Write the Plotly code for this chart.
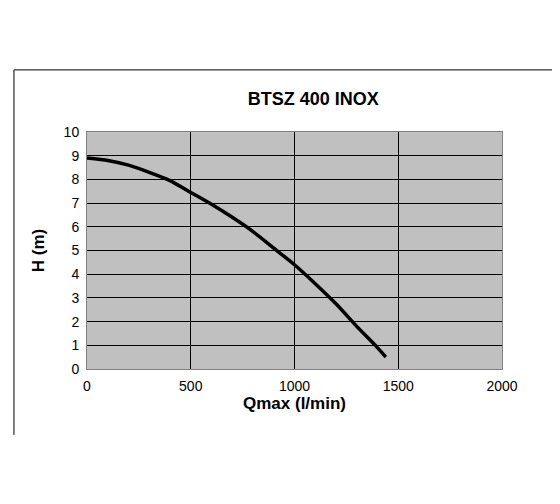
import plotly.graph_objects as go

# pump curve
flow = [0, 100, 200, 300, 400, 500, 600, 700, 800, 900, 1000, 1100, 1200, 1300, 1400, 1440]
head = [8.9, 8.8, 8.6, 8.3, 7.95, 7.45, 6.95, 6.4, 5.8, 5.1, 4.4, 3.6, 2.75, 1.8, 0.9, 0.5]

fig = go.Figure(go.Scatter(x=flow, y=head, mode='lines',
                           line=dict(color='black', width=3.5, shape='spline', smoothing=0.6)))

fig.update_xaxes(range=[0, 2000], dtick=500, showgrid=True, gridcolor='black', gridwidth=1,
                 showline=True, linecolor='#808080', mirror=True, zeroline=False,
                 tickfont=dict(family='Arial', size=14, color='black'), ticklen=4, ticks='outside',
                 tickcolor='white',
                 title=dict(text='<b>Qmax (l/min)</b>', font=dict(family='Arial', size=17, color='black'), standoff=0))
fig.update_yaxes(range=[0, 10], dtick=1, showgrid=True, gridcolor='black', gridwidth=1,
                 showline=True, linecolor='#808080', mirror=True, zeroline=False,
                 tickfont=dict(family='Arial', size=14, color='black'), ticklen=4, ticks='outside',
                 tickcolor='white',
                 title=dict(text='<b>H (m)</b>', font=dict(family='Arial', size=17, color='black'), standoff=14))

# partial outer frame
fig.add_shape(type='line', xref='paper', yref='paper', x0=-0.176, x1=1.2, y0=1.262, y1=1.262,
              line=dict(color='black', width=1))
fig.add_shape(type='line', xref='paper', yref='paper', x0=-0.176, x1=-0.176, y0=1.262, y1=-0.278,
              line=dict(color='black', width=1))

fig.update_layout(
    width=560, height=504,
    margin=dict(l=79, r=66, t=124, b=143),
    plot_bgcolor='#C0C0C0', paper_bgcolor='white',
    showlegend=False,
    title=dict(text='<b>BTSZ 400 INOX</b>', x=0.545, xanchor='center', y=0.82, yanchor='middle',
               font=dict(family='Arial', size=18, color='black')),
)

fig.write_html('out.html')
